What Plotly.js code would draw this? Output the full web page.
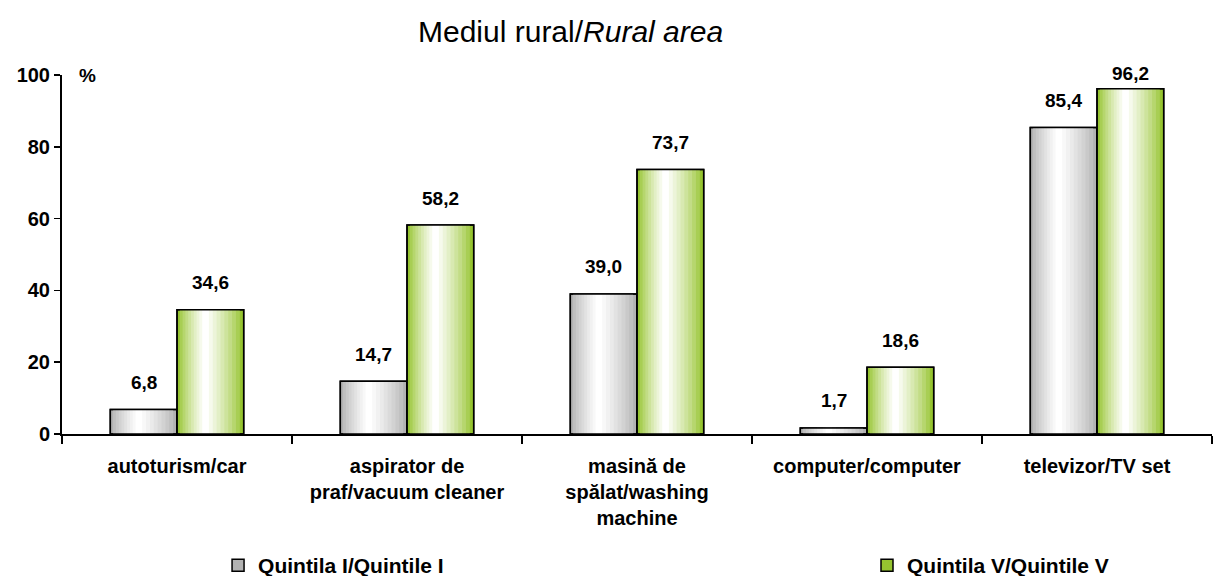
<!DOCTYPE html>
<html>
<head>
<meta charset="utf-8">
<script src="https://cdn.plot.ly/plotly-3.0.1.min.js"></script>
<style>html,body{margin:0;padding:0;background:#fff;}#chart{width:1214px;height:576px;}</style>
</head>
<body>
<div id="chart"></div>
<script>
const categories = [
  "autoturism/car",
  "aspirator de<br>praf/vacuum cleaner",
  "masină de<br>spălat/washing<br>machine",
  "computer/computer",
  "televizor/TV set"
];
const quintileI = [6.8, 14.7, 39.0, 1.7, 85.4];
const quintileV = [34.6, 58.2, 73.7, 18.6, 96.2];
const seriesNames = ["Quintila I/Quintile I", "Quintila V/Quintile V"];
const yTicks = [0, 20, 40, 60, 80, 100];

const FONT = "Liberation Sans, Arial, sans-serif";
const barW = 0.29;
const series = [
  {name: seriesNames[0], vals: quintileI, start: -barW, edge: [178, 178, 178], legend: "legend"},
  {name: seriesNames[1], vals: quintileV, start: 0, edge: [150, 196, 48], legend: "legend2"}
];
const N = 10;
const traces = [];
series.forEach((s, si) => {
  const peak = s.start + barW * 0.42;
  for (let k = 0; k < N; k++) {
    const f = 1 - k / N;
    const t = k / (N - 1);
    const c = s.edge.map(e => Math.round(e + (255 - e) * Math.pow(t, 0.8)));
    const left = peak - barW * 0.42 * f;
    const w = barW * f;
    traces.push({
      type: "bar", x: categories, y: s.vals,
      offset: left, width: w,
      marker: {color: `rgb(${c.join(",")})`, line: {width: k === 0 ? 1.5 : 0, color: "#000"}},
      name: s.name, showlegend: k === 0, legend: s.legend, legendgroup: "g" + si,
      hoverinfo: "skip"
    });
  }
  traces.push({
    type: "bar", x: categories, y: s.vals,
    offset: s.start, width: barW,
    marker: {color: "rgba(0,0,0,0)", line: {width: 1.5, color: "#000"}},
    name: s.name, showlegend: false, legend: s.legend, legendgroup: "g" + si, hoverinfo: "skip"
  });
});

const annotations = [];
series.forEach((s) => {
  s.vals.forEach((v, i) => {
    annotations.push({
      x: categories[i], y: v, xref: "x", yref: "y",
      text: v.toFixed(1).replace(".", ","),
      showarrow: false, yanchor: "middle",
      xshift: (s.start + barW / 2) * 230,
      yshift: Math.min(27, (100.3 - v) * 3.59),
      font: {family: FONT, size: 19, color: "#000", weight: "bold"}
    });
  });
});
annotations.push({
  xref: "paper", yref: "paper", x: 0.0226, y: 1, text: "%",
  showarrow: false, xanchor: "center", yanchor: "middle",
  font: {family: FONT, size: 19, color: "#000", weight: "bold"}
});

const legendFont = {family: FONT, size: 21, color: "#000", weight: "bold"};
const layout = {
  width: 1214, height: 576,
  margin: {l: 62, r: 2, t: 75, b: 142},
  paper_bgcolor: "#fff", plot_bgcolor: "#fff",
  barmode: "overlay",
  title: {text: "Mediul rural/<i>Rural area</i>", x: 0.47, xref: "container", xanchor: "center", y: 0.945, yref: "container", yanchor: "middle",
    font: {family: FONT, size: 30, color: "#000"}},
  xaxis: {
    type: "category", tickson: "boundaries", ticks: "outside", ticklen: 8, tickwidth: 1.5, tickcolor: "#000",
    showline: true, linecolor: "#000", linewidth: 2, showgrid: false, zeroline: false, ticklabelstandoff: 13,
    tickfont: {family: FONT, size: 20, color: "#000", weight: "bold"}, range: [-0.5, 4.5], automargin: false
  },
  yaxis: {
    range: [0, 100], tickvals: yTicks, ticktext: yTicks.map(String), ticks: "outside", ticklen: 6, tickwidth: 1.5, tickcolor: "#000",
    showline: true, linecolor: "#000", linewidth: 2, showgrid: false, zeroline: false,
    tickfont: {family: FONT, size: 20, color: "#000", weight: "bold"}, automargin: false
  },
  legend: {
    orientation: "h", x: 0.1357, xref: "paper", xanchor: "left", y: 0.018, yref: "container", yanchor: "middle",
    font: legendFont, itemwidth: 30, bgcolor: "rgba(0,0,0,0)"
  },
  legend2: {
    orientation: "h", x: 0.700, xref: "paper", xanchor: "left", y: 0.018, yref: "container", yanchor: "middle",
    font: legendFont, itemwidth: 30, bgcolor: "rgba(0,0,0,0)"
  },
  annotations: annotations,
  showlegend: true
};

Plotly.newPlot("chart", traces, layout, {displayModeBar: false, staticPlot: true});
</script>
</body>
</html>
